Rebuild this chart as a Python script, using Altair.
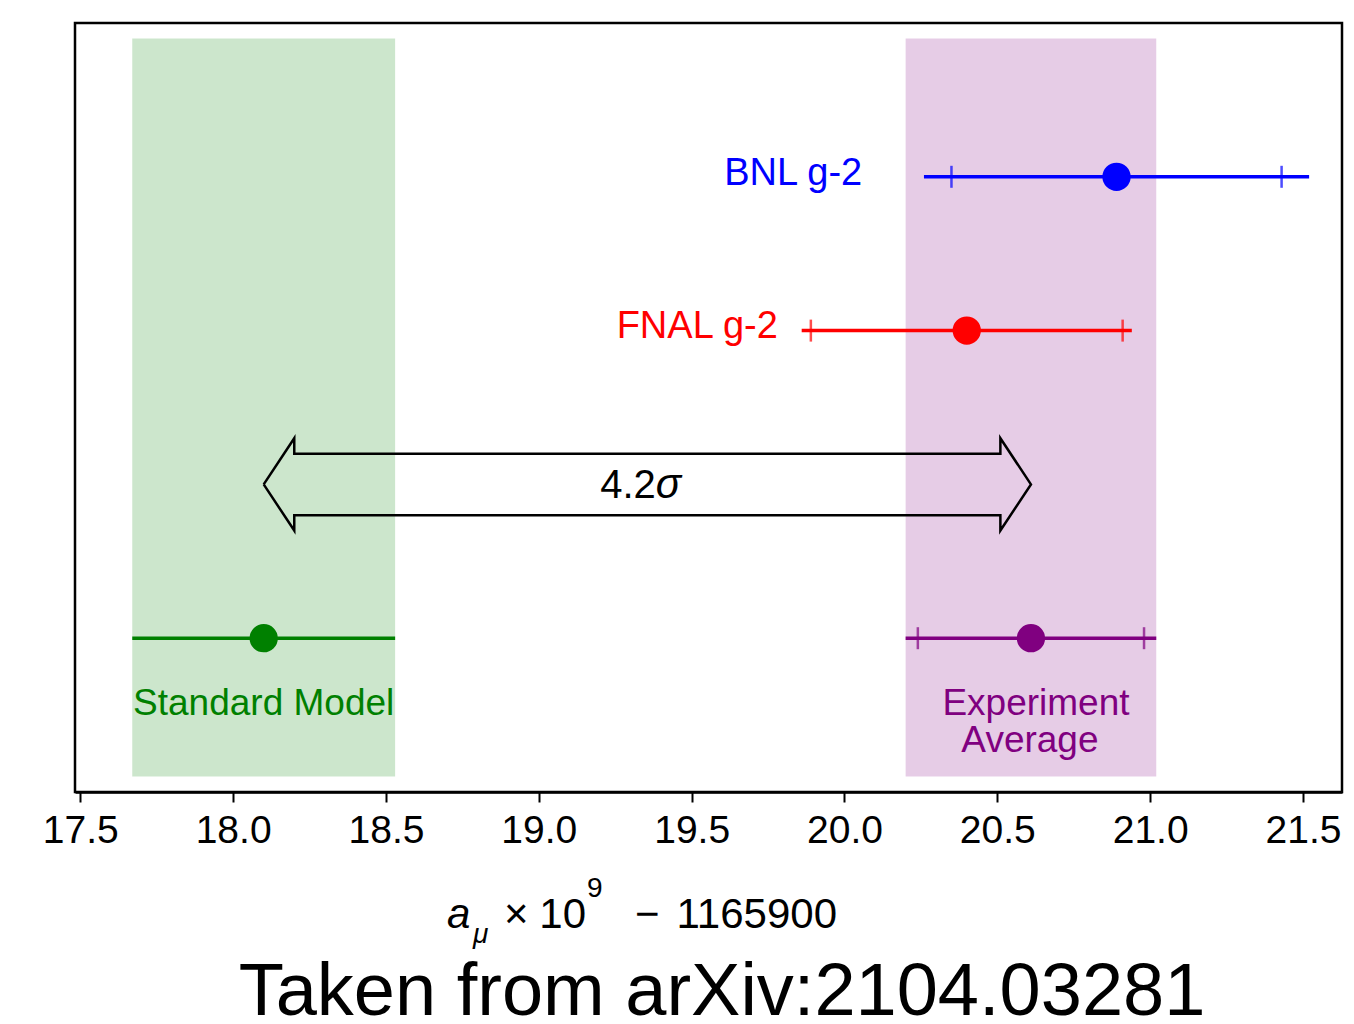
import altair as alt
import pandas as pd

# ---- data (a_mu x 1e9 - 1165900) ----
names = ["BNL g-2", "FNAL g-2", "Experiment Average", "Standard Model"]
rows = [4, 3, 1, 1]
centers = [20.89, 20.40, 20.61, 18.10]
total_err = [0.63, 0.54, 0.41, 0.43]
stat_err = [0.54, 0.51, 0.37, None]
colors = ["#0000ff", "#ff0000", "#800080", "#008000"]

band_names = ["Standard Model", "Experiment Average"]
band_centers = [18.10, 20.61]
band_err = [0.43, 0.41]
band_colors = ["#008000", "#800080"]
band_y = [0.1, 4.9]

arrow_row = 2
arrow_from = 18.10
arrow_to = 20.61
sigma_value = "4.2"

tick_values = [17.5, 18.0, 18.5, 19.0, 19.5, 20.0, 20.5, 21.0, 21.5]
x_domain = [17.4827, 21.6276]
y_domain = [0, 5]

# ---- tables ----
err_df = pd.DataFrame({
    "name": names, "y": rows,
    "lo": [c - e for c, e in zip(centers, total_err)],
    "hi": [c + e for c, e in zip(centers, total_err)],
    "color": colors,
})
pt_df = pd.DataFrame({"name": names, "x": centers, "y": rows, "color": colors})
cap_rows = []
for n, c, s, r, col in zip(names, centers, stat_err, rows, colors):
    if s is not None:
        cap_rows.append({"x": c - s, "y": r, "color": col})
        cap_rows.append({"x": c + s, "y": r, "color": col})
cap_df = pd.DataFrame(cap_rows)
band_df = pd.DataFrame({
    "name": band_names,
    "x": [c - e for c, e in zip(band_centers, band_err)],
    "x2": [c + e for c, e in zip(band_centers, band_err)],
    "y": [band_y[0]] * 2, "y2": [band_y[1]] * 2,
    "color": band_colors,
})

# hollow double-headed arrow outline
hl, sw, hw = 0.1, 0.2, 0.3
a, b, r0 = arrow_from, arrow_to, arrow_row
arrow_pts = [
    (a, r0), (a + hl, r0 + hw), (a + hl, r0 + sw), (b - hl, r0 + sw),
    (b - hl, r0 + hw), (b, r0), (b - hl, r0 - hw), (b - hl, r0 - sw),
    (a + hl, r0 - sw), (a + hl, r0 - hw), (a, r0),
]
arrow_df = pd.DataFrame({"i": list(range(len(arrow_pts))),
                         "x": [p[0] for p in arrow_pts],
                         "y": [p[1] for p in arrow_pts]})

FONT = "Liberation Sans"
xscale = alt.Scale(domain=x_domain, nice=False, zero=False)
yscale = alt.Scale(domain=y_domain, nice=False, zero=False)
xaxis = alt.Axis(values=tick_values, format=".1f", title=None, grid=False,
                 labelFontSize=39, labelFont=FONT, labelColor="black",
                 tickColor="black", tickWidth=2, tickSize=10, labelPadding=9,
                 domainColor="black", domainWidth=2.5, labelAngle=0,
                 labelFlush=False, labelOverlap=False)


def X(f, **kw):
    return alt.X(f, type="quantitative", scale=xscale, axis=xaxis, **kw)


def Y(f):
    return alt.Y(f, type="quantitative", scale=yscale, axis=None)


bands = alt.Chart(band_df).mark_rect(opacity=0.2).encode(
    x=X("x"), x2="x2", y=Y("y"), y2="y2",
    color=alt.Color("color:N", scale=None))

arrow = alt.Chart(arrow_df).mark_line(
    color="black", strokeWidth=2.5, strokeJoin="miter").encode(
    x=X("x"), y=Y("y"), order="i:Q")

errs = alt.Chart(err_df).mark_rule(strokeWidth=3.5).encode(
    x=X("lo"), x2="hi", y=Y("y"), color=alt.Color("color:N", scale=None))

caps = alt.Chart(cap_df).mark_tick(orient="vertical", size=22, thickness=2.5).encode(
    x=X("x"), y=Y("y"), color=alt.Color("color:N", scale=None))

pts = alt.Chart(pt_df).mark_point(filled=True, size=800, opacity=1,
                                  shape="circle").encode(
    x=X("x"), y=Y("y"), color=alt.Color("color:N", scale=None))


def label(text, x, y, color, align, dy, dx=0, size=37, italic=False):
    kw = dict(text=text, color=color, align=align, baseline="alphabetic",
              dy=dy, dx=dx, fontSize=size, font=FONT)
    if italic:
        kw["fontStyle"] = "italic"
    return alt.Chart(pd.DataFrame({"x": [x], "y": [y]})).mark_text(**kw).encode(
        x=X("x"), y=Y("y"))


lab_bnl = label("BNL g-2", 20.058, rows[0], colors[0], "right", 8.5, size=38)
lab_fnal = label("FNAL g-2", 19.782, rows[1], colors[1], "right", 7.5, size=38)
lab_exp1 = label("Experiment", 20.61, rows[2], colors[2], "center", 76.8, dx=5)
lab_exp2 = label("Average", 20.61, rows[2], colors[2], "center", 113.8, dx=-1)
lab_sm = label("Standard Model", 18.10, rows[3], colors[3], "center", 76.8)
mid = (arrow_from + arrow_to) / 2
lab_s1 = label(sigma_value, mid, arrow_row, "black", "right", 14, dx=8.5, size=40)
lab_s2 = label("σ", mid, arrow_row, "black", "left", 14, dx=8.5, size=42,
               italic=True)


def ptext(text, px, py, size, align="left", italic=False):
    kw = dict(text=text, color="black", align=align, baseline="alphabetic",
              fontSize=size, font=FONT)
    if italic:
        kw["fontStyle"] = "italic"
    return alt.Chart(pd.DataFrame({"k": [0]})).mark_text(**kw).encode(
        x=alt.value(px), y=alt.value(py))


# axis title pieces and footer (pixel positions relative to plot origin)
t_a = ptext("a", 372, 905, 42, italic=True)
t_mu = ptext("μ", 398, 920, 28, italic=True)
t_x = ptext("×", 429, 905, 42)
t_10 = ptext("10", 511, 905, 42, align="right")
t_9 = ptext("9", 512, 874, 28)
t_minus = ptext("−", 560, 905, 42)
t_num = ptext("1165900", 762, 905, 42, align="right")
footer = ptext("Taken from arXiv:2104.03281", 647, 992, 74, align="center")

chart = alt.layer(
    bands, arrow, errs, caps, pts,
    lab_bnl, lab_fnal, lab_exp1, lab_exp2, lab_sm, lab_s1, lab_s2,
    t_a, t_mu, t_x, t_10, t_9, t_minus, t_num, footer,
).properties(
    width=1267, height=769,
    autosize=alt.AutoSizeParams(type="none"),
    padding={"left": 67, "top": 15, "right": 4, "bottom": 224},
).configure_view(stroke="black", strokeWidth=2.5)

chart.save("out.html", embed_options={"renderer": "svg", "actions": False})
